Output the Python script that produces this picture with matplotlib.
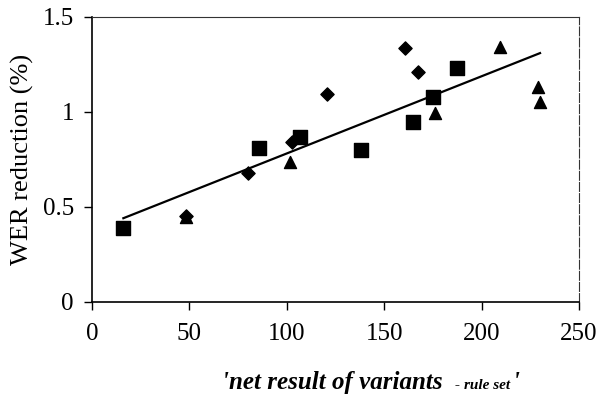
import matplotlib
matplotlib.use("Agg")
import matplotlib.pyplot as plt

# Data
diamond_x = [160.7, 167.5, 120.5, 102.5, 79.9, 48.3]
diamond_y = [1.337, 1.208, 1.096, 0.841, 0.681, 0.453]

square_x = [16.1, 85.9, 106.8, 138.1, 164.6, 174.9, 187.2]
square_y = [0.391, 0.813, 0.871, 0.801, 0.945, 1.078, 1.231]

triangle_x = [48.3, 101.6, 176.1, 209.4, 229.1, 230.0]
triangle_y = [0.45, 0.739, 0.994, 1.340, 1.131, 1.050]

trend_x = [16.1, 230.0]
trend_y = [0.441, 1.310]

x_ticks = [0, 50, 100, 150, 200, 250]
y_ticks = [0, 0.5, 1, 1.5]
y_tick_labels = ["0", "0.5", "1", "1.5"]

plt.rcParams['font.family'] = ['Liberation Serif', 'DejaVu Serif']

fig = plt.figure(figsize=(5.99, 3.97), dpi=100)
ax = fig.add_axes([92/599, 1-302/397, (579-92)/599, (302-17)/397])

ax.plot(trend_x, trend_y, color='black', lw=1.6, zorder=2)
ax.scatter(diamond_x, diamond_y, marker='D', s=45, color='black', zorder=3)
ax.scatter(square_x, square_y, marker='s', s=90, color='black', zorder=3)
ax.scatter(triangle_x, triangle_y, marker='^', s=75, color='black', zorder=3)

ax.set_xlim(0, 250)
ax.set_ylim(0, 1.5)
ax.set_xticks(x_ticks)
ax.set_xticklabels([str(v) for v in x_ticks])
ax.set_yticks(y_ticks)
ax.set_yticklabels(y_tick_labels)
ax.tick_params(axis='both', direction='out', length=6, width=1, labelsize=18, colors='black')
ax.tick_params(axis='x', pad=9)
ax.tick_params(axis='y', pad=7)

for side in ['left', 'bottom']:
    ax.spines[side].set_linewidth(1.2)
for side in ['top', 'right']:
    ax.spines[side].set_linewidth(0.8)
    ax.spines[side].set_color('#333333')
ax.spines['right'].set_linestyle((0, (8, 2)))

ax.set_ylabel("WER reduction (%)", fontsize=19, labelpad=6)

# x label composed of pieces
fig.text(222/599, 1-389/397, "'net result of variants", fontsize=18, fontstyle='italic',
         fontweight='bold', ha='left', va='baseline')
fig.text(455/599, 1-389/397, "- rule set", fontsize=11, fontstyle='italic',
         fontweight='bold', ha='left', va='baseline')
fig.text(513/599, 1-389/397, "'", fontsize=18, fontstyle='italic',
         fontweight='bold', ha='left', va='baseline')

fig.savefig("out.png", dpi=100)
